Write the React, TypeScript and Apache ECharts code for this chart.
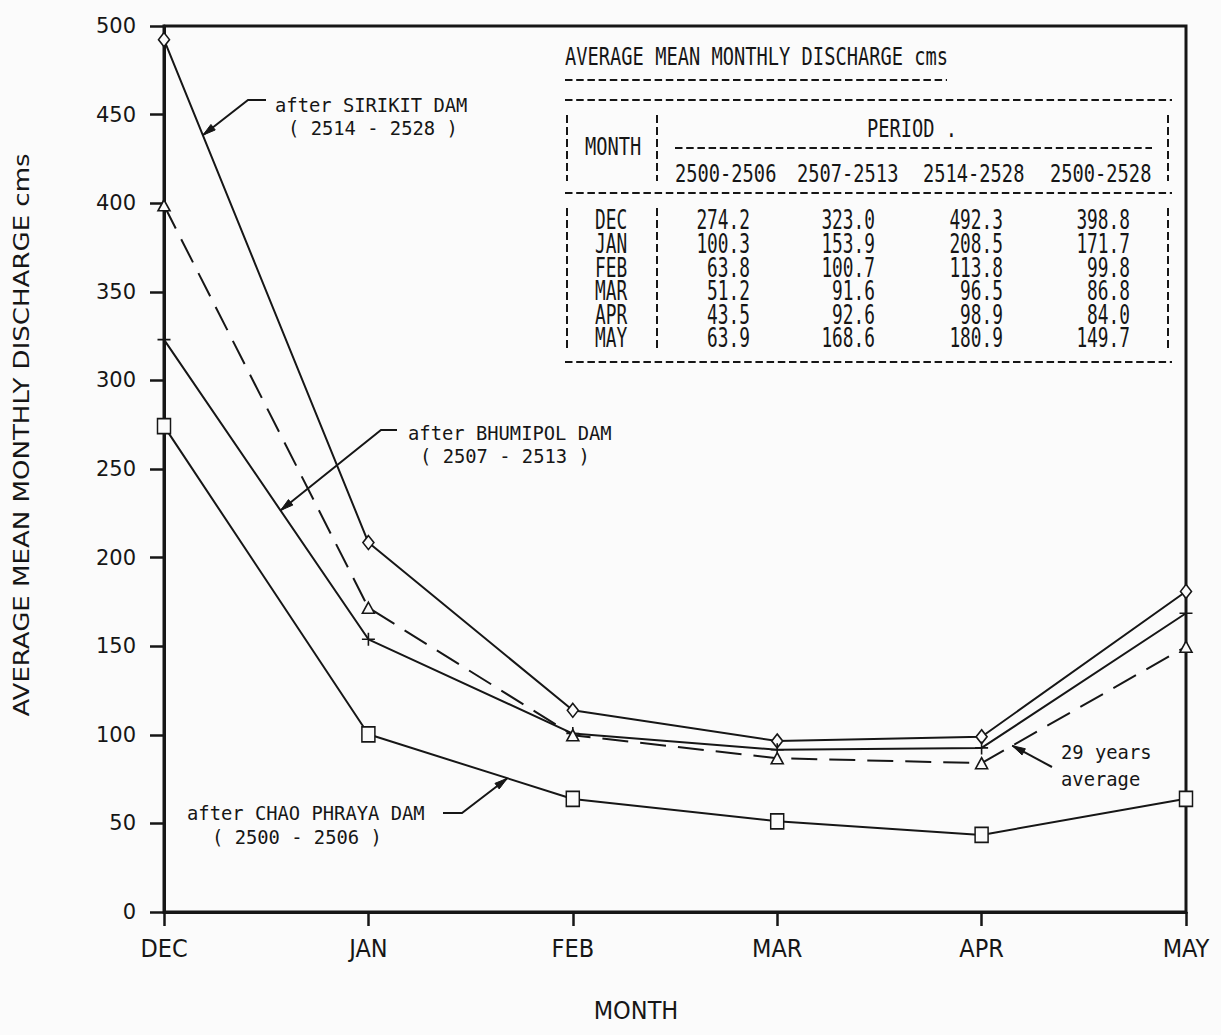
import React, { useEffect, useRef } from "react";
import * as echarts from "echarts";

const months = ["DEC", "JAN", "FEB", "MAR", "APR", "MAY"];
const chaoPhraya = [274.2, 100.3, 63.8, 51.2, 43.5, 63.9]; // 2500-2506
const bhumipol = [323.0, 153.9, 100.7, 91.6, 92.6, 168.6]; // 2507-2513
const sirikit = [492.3, 208.5, 113.8, 96.5, 98.9, 180.9]; // 2514-2528
const avg29 = [398.8, 171.7, 99.8, 86.8, 84.0, 149.7]; // 2500-2528
const periods = ["2500-2506", "2507-2513", "2514-2528", "2500-2528"];
const yTicks = { min: 0, max: 500, interval: 50 };

const INK = "#161616";
const MONO = "'DejaVu Sans Mono', 'Liberation Mono', monospace";
const NARROW = "'Liberation Sans Narrow', 'DejaVu Sans Condensed', 'Liberation Sans', sans-serif";

const txt = (text: string, x: number, y: number, size: number, sx: number, align = "left", family = MONO, rotation = 0) => ({
  type: "text",
  x,
  y,
  scaleX: sx,
  rotation,
  z: 50,
  silent: true,
  style: { text, fontFamily: family, fontSize: size, fill: INK, align, verticalAlign: "middle" },
});

const hline = (x1: number, x2: number, y: number) => ({
  type: "line",
  z: 50,
  silent: true,
  shape: { x1, y1: y, x2, y2: y },
  style: { stroke: INK, lineWidth: 2, lineDash: [7.5, 3.7] },
});

const vline = (x: number, y1: number, y2: number) => ({
  type: "line",
  z: 50,
  silent: true,
  shape: { x1: x, y1, x2: x, y2 },
  style: { stroke: INK, lineWidth: 2, lineDash: [8, 4] },
});

function leader(tip: number[], pts: number[][]) {
  const p0 = pts[0];
  let dx = tip[0] - p0[0];
  let dy = tip[1] - p0[1];
  const len = Math.sqrt(dx * dx + dy * dy) || 1;
  dx /= len;
  dy /= len;
  const bx = tip[0] - dx * 13;
  const by = tip[1] - dy * 13;
  const nx = -dy;
  const ny = dx;
  return [
    {
      type: "polyline",
      z: 50,
      silent: true,
      shape: { points: [tip, ...pts] },
      style: { stroke: INK, lineWidth: 2, fill: null },
    },
    {
      type: "polygon",
      z: 51,
      silent: true,
      shape: { points: [tip, [bx + nx * 3.5, by + ny * 3.5], [bx - nx * 3.5, by - ny * 3.5]] },
      style: { fill: INK, stroke: INK, lineWidth: 1 },
    },
  ];
}

const lineSeries = (name: string, data: number[], symbol: string, symbolSize: any, dashed = false) => ({
  name,
  type: "line",
  data,
  symbol,
  symbolSize,
  showAllSymbol: true,
  z: 3,
  lineStyle: { color: INK, width: 2, type: dashed ? [26, 12] : "solid" },
  itemStyle: { color: "#fbfbfb", borderColor: INK, borderWidth: 1.6 },
  emphasis: { disabled: true },
});

export default function App() {
  const ref = useRef<HTMLDivElement>(null);

  useEffect(() => {
    if (!ref.current) return;
    const chart = echarts.init(ref.current, null, { renderer: "svg" });
    chart.setOption({
      animation: false,
      backgroundColor: "#fbfbfb",
      grid: { left: 164, right: 35, top: 26, bottom: 123, show: true, borderColor: INK, borderWidth: 3, backgroundColor: "transparent" },
      xAxis: {
        type: "category",
        data: months,
        boundaryGap: false,
        axisLine: { lineStyle: { color: INK, width: 3 } },
        axisTick: { show: true, length: 14, interval: 0, lineStyle: { color: INK, width: 2.5 } },
        axisLabel: { interval: 0, margin: 24, fontFamily: NARROW, fontSize: 25, color: INK },
        splitLine: { show: false },
      },
      yAxis: {
        type: "value",
        min: yTicks.min,
        max: yTicks.max,
        interval: yTicks.interval,
        axisLine: { show: true, lineStyle: { color: INK, width: 3 } },
        axisTick: { show: true, length: 14, lineStyle: { color: INK, width: 2.5 } },
        axisLabel: { margin: 28, fontFamily: "'DejaVu Sans', sans-serif", fontSize: 21, color: INK },
        splitLine: { show: false },
      },
      series: [
        lineSeries("after SIRIKIT DAM (2514-2528)", sirikit, "diamond", [11, 14]),
        lineSeries("after BHUMIPOL DAM (2507-2513)", bhumipol, "path://M0,6L12,6M6,0L6,12", 13),
        lineSeries("29 years average (2500-2528)", avg29, "triangle", [12, 11], true),
        lineSeries("after CHAO PHRAYA DAM (2500-2506)", chaoPhraya, "rect", [13, 15]),
      ],
    });

    const px = (i: number, v: number) => chart.convertToPixel({ gridIndex: 0 }, [i, v]) as number[];
    const along = (data: number[], i: number, t: number) => {
      const a = px(i, data[i]);
      const b = px(i + 1, data[i + 1]);
      return [a[0] + (b[0] - a[0]) * t, a[1] + (b[1] - a[1]) * t];
    };

    const g: any[] = [];
    // y axis name
    g.push(txt("AVERAGE MEAN MONTHLY DISCHARGE cms", 22, 435, 21, 1.24, "center", "'DejaVu Sans', sans-serif", Math.PI / 2));
    // x axis name
    g.push(txt("MONTH", 636, 1010, 25, 1, "center", NARROW));

    // annotations
    g.push(txt("after SIRIKIT DAM", 275, 105, 19, 0.99));
    g.push(txt("( 2514 - 2528 )", 288, 128, 19, 0.99));
    g.push(...leader(along(sirikit, 0, 0.19), [[248, 100], [266, 100]]));

    g.push(txt("after BHUMIPOL DAM", 408, 433, 19, 0.99));
    g.push(txt("( 2507 - 2513 )", 420, 456, 19, 0.99));
    g.push(...leader(along(bhumipol, 0, 0.57), [[381, 430], [397, 430]]));

    g.push(txt("after CHAO PHRAYA DAM", 187, 813, 19, 0.99));
    g.push(txt("( 2500 - 2506 )", 212, 837, 19, 0.99));
    g.push(...leader(along(chaoPhraya, 1, 0.68), [[462, 813], [443, 813]]));

    g.push(txt("29 years", 1061, 752, 19, 0.99));
    g.push(txt("average", 1061, 779, 19, 0.99));
    g.push(...leader(along(avg29, 4, 0.15), [[1052, 767]]));

    // table
    g.push(txt("AVERAGE MEAN MONTHLY DISCHARGE cms", 565, 57, 24, 0.78));
    g.push(hline(565, 947, 80));
    g.push(hline(565, 1172, 100));
    g.push(vline(567, 115, 181));
    g.push(vline(657, 115, 181));
    g.push(vline(1168, 115, 181));
    g.push(txt("MONTH", 585, 147, 24, 0.78));
    g.push(txt("PERIOD .", 867, 129, 24, 0.78));
    g.push(hline(675, 1152, 148));
    const headX = [675, 797, 923, 1050];
    periods.forEach((p, i) => g.push(txt(p, headX[i], 174, 24, 0.78)));
    g.push(hline(565, 1172, 193));
    g.push(vline(567, 208, 350));
    g.push(vline(657, 208, 350));
    g.push(vline(1168, 208, 350));
    const cols = [chaoPhraya, bhumipol, sirikit, avg29];
    const colRight = [750, 875, 1003, 1130];
    months.forEach((m, r) => {
      const y = 220 + r * 23.6;
      g.push(txt(m, 595, y, 27, 0.66));
      cols.forEach((c, ci) => g.push(txt(c[r].toFixed(1), colRight[ci], y, 27, 0.66, "right")));
    });
    g.push(hline(565, 1172, 362));

    chart.setOption({ graphic: g });

    return () => chart.dispose();
  }, []);

  return <div ref={ref} style={{ position: "fixed", left: 0, top: 0, width: 1221, height: 1035, background: "#fbfbfb" }} />;
}
